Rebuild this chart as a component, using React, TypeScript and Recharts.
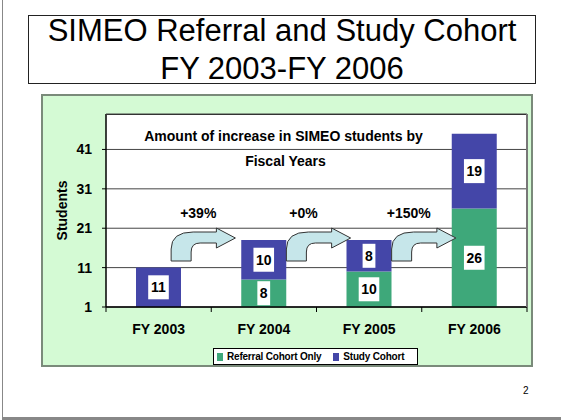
import React from "react";
import { Bar, BarChart, CartesianGrid, LabelList, Legend, XAxis, YAxis } from "recharts";

const YEARS = ["FY 2003", "FY 2004", "FY 2005", "FY 2006"];
const REFERRAL_ONLY = [0, 8, 10, 26];
const STUDY_COHORT = [11, 10, 8, 19];
const Y_TICKS = [1, 11, 21, 31, 41];
const Y_MIN = 1;
const Y_MAX = 50;
const INCREASE_LABELS = ["+39%", "+0%", "+150%"];
const CHART_TITLE = ["Amount of increase in SIMEO students by", "Fiscal Years"];
const SLIDE_TITLE = ["SIMEO Referral and Study Cohort", "FY 2003-FY 2006"];

const data = YEARS.map((year, i) => ({
  year,
  referral: REFERRAL_ONLY[i],
  study: STUDY_COHORT[i]
}));

const FONT = '"Liberation Sans", Arial, sans-serif';
const GREEN = "#3ea87a";
const BLUE = "#4446a8";

// chart frame (the green panel) on the page
const FRAME = { left: 41, top: 94, width: 492, height: 273 };
const MARGIN = { top: 20, right: 6, left: 0, bottom: 20 };
const Y_AXIS_W = 65;
const X_AXIS_H = 40;
const BAR_W = 45;

// plot area, page coordinates
const PLOT_L = FRAME.left + MARGIN.left + Y_AXIS_W;
const PLOT_R = FRAME.left + FRAME.width - MARGIN.right;
const PLOT_T = FRAME.top + MARGIN.top;
const PLOT_B = FRAME.top + FRAME.height - MARGIN.bottom - X_AXIS_H;
const BAND = (PLOT_R - PLOT_L) / YEARS.length;
const yPos = (v: number) => PLOT_T + ((Y_MAX - v) / (Y_MAX - Y_MIN)) * (PLOT_B - PLOT_T);

function ValueBox(props: any) {
  const { x, y, width, height, value } = props;
  if (!value) return null;
  const cx = Number(x) + Number(width) / 2;
  const cy = Number(y) + Number(height) / 2;
  const w = String(value).length * 7.8 + 5;
  return (
    <g>
      <rect x={cx - w / 2} y={cy - 12} width={w} height={24} fill="#fff" />
      <text x={cx} y={cy + 5} textAnchor="middle" fontFamily={FONT} fontWeight="bold" fontSize={14} fill="#000">
        {value}
      </text>
    </g>
  );
}

function YearTick(props: any) {
  const { x, y, payload, index } = props;
  const half = BAND / 2;
  return (
    <g>
      <line x1={x - half} x2={x - half} y1={y} y2={y + 5} stroke="#000" />
      {index === YEARS.length - 1 && <line x1={x + half} x2={x + half} y1={y} y2={y + 5} stroke="#000" />}
      <text x={x} y={y + 27} textAnchor="middle" fontFamily={FONT} fontWeight="bold" fontSize={14} fill="#000">
        {payload.value}
      </text>
    </g>
  );
}

function StudentsLabel(props: any) {
  const { viewBox } = props;
  const x = viewBox.x + 26;
  const y = viewBox.y + viewBox.height / 2;
  return (
    <text x={x} y={y} transform={`rotate(-90 ${x} ${y})`} textAnchor="middle" fontFamily={FONT} fontWeight="bold" fontSize={14} fill="#000">
      Students
    </text>
  );
}

function LegendBox() {
  const item = (color: string, label: string) => (
    <span style={{ display: "inline-flex", alignItems: "center", marginRight: 12 }}>
      <span style={{ display: "inline-block", width: 6, height: 8, background: color, marginRight: 4 }} />
      {label}
    </span>
  );
  return (
    <div
      style={{
        boxSizing: "border-box",
        width: 205,
        height: 17,
        border: "1px solid #000",
        background: "#fff",
        fontFamily: FONT,
        fontWeight: "bold",
        fontSize: 10,
        lineHeight: "15px",
        paddingLeft: 3,
        whiteSpace: "nowrap",
        letterSpacing: -0.2
      }}
    >
      {item(GREEN, "Referral Cohort Only")}
      {item(BLUE, "Study Cohort")}
    </div>
  );
}

function arrowPath(x0: number, xt: number) {
  const x1 = x0 + 20;
  const xh = xt - 19;
  const yb = 261;
  const yt = 232;
  const ys = 243;
  return [
    `M${x0},${yb}`,
    `L${x0},${ys + 6}`,
    `Q${x0},${yt} ${x0 + 22},${yt}`,
    `L${xh},${yt}`,
    `L${xh},228`,
    `L${xt},238`,
    `L${xh},248`,
    `L${xh},${ys}`,
    `L${x1 + 9},${ys}`,
    `Q${x1},${ys} ${x1},${ys + 9}`,
    `L${x1},${yb}`,
    "Z"
  ].join(" ");
}

function Overlay() {
  return (
    <svg width={561} height={420} style={{ position: "absolute", left: 0, top: 0, pointerEvents: "none" }}>
      <line x1={PLOT_L} x2={PLOT_R} y1={PLOT_T + 0.5} y2={PLOT_T + 0.5} stroke="#333" />
      <line x1={PLOT_R} x2={PLOT_R} y1={PLOT_T} y2={PLOT_B} stroke="#777" strokeWidth={2} />
      {CHART_TITLE.map((t, i) => (
        <text key={t} x={(PLOT_L + PLOT_R) / 2 - 33 + i * 2} y={141 + i * 25} textAnchor="middle" fontFamily={FONT} fontWeight="bold" fontSize={14} fill="#000">
          {t}
        </text>
      ))}
      {INCREASE_LABELS.map((t, i) => {
        const boundary = PLOT_L + (i + 1) * BAND;
        const leftBarRight = boundary - BAND / 2 + BAR_W / 2;
        const rightBarLeft = boundary + BAND / 2 - BAR_W / 2;
        return (
          <g key={t}>
            <text x={boundary - 13} y={yPos(23.5)} textAnchor="middle" fontFamily={FONT} fontWeight="bold" fontSize={14} fill="#000">
              {t}
            </text>
            <path d={arrowPath(leftBarRight - (i === 0 ? 10 : 0), rightBarLeft + 4 - (i === 0 ? 10 : 0))} fill="#c6e6ea" stroke="#333" strokeWidth={1} />
          </g>
        );
      })}
    </svg>
  );
}

export default function App() {
  return (
    <div style={{ position: "absolute", left: 0, top: 0, width: 561, height: 420, background: "#fff", fontFamily: FONT }}>
      <div style={{ position: "absolute", left: 2, top: 0, width: 1, height: 418, background: "#888" }} />
      <div style={{ position: "absolute", left: 2, top: 417, width: 559, height: 3, background: "#888" }} />
      <div
        style={{
          position: "absolute",
          left: 28,
          top: 15,
          width: 508,
          height: 69,
          boxSizing: "border-box",
          border: "1px solid #222"
        }}
      >
        {SLIDE_TITLE.map((t, i) => (
          <div
            key={t}
            style={{ position: "absolute", left: 0, right: 0, top: -3 + i * 38, textAlign: "center", fontSize: 31, lineHeight: "36px", color: "#000" }}
          >
            {t}
          </div>
        ))}
      </div>
      <div
        style={{
          position: "absolute",
          left: FRAME.left,
          top: FRAME.top,
          width: FRAME.width,
          height: FRAME.height,
          boxSizing: "border-box",
          border: "2px solid #7a8a7a",
          background: "#d4fad4"
        }}
      />
      <div style={{ position: "absolute", left: FRAME.left, top: FRAME.top }}>
        <BarChart width={FRAME.width} height={FRAME.height} data={data} margin={MARGIN} barSize={BAR_W}>
          <CartesianGrid vertical={false} stroke="#444" fill="#fff" />
          <XAxis
            dataKey="year"
            height={X_AXIS_H}
            axisLine={{ stroke: "#000", strokeWidth: 1.5 }}
            tickLine={false}
            tickSize={0}
            tickMargin={0}
            tick={<YearTick />}
            interval={0}
          />
          <YAxis
            width={Y_AXIS_W}
            domain={[Y_MIN, Y_MAX]}
            ticks={Y_TICKS}
            allowDataOverflow
            axisLine={{ stroke: "#000", strokeWidth: 1.5 }}
            tickLine={{ stroke: "#000" }}
            tickSize={4}
            tickMargin={10}
            tick={{ fill: "#000", fontFamily: FONT, fontWeight: "bold", fontSize: 14 }}
            label={<StudentsLabel />}
          />
          <Legend
            layout="horizontal"
            verticalAlign="middle"
            align="center"
            wrapperStyle={{ left: 172, top: 254, width: 205, height: 17 }}
            content={<LegendBox />}
          />
          <Bar dataKey="referral" name="Referral Cohort Only" stackId="s" fill={GREEN} isAnimationActive={false}>
            <LabelList dataKey="referral" content={<ValueBox />} />
          </Bar>
          <Bar dataKey="study" name="Study Cohort" stackId="s" fill={BLUE} isAnimationActive={false}>
            <LabelList dataKey="study" content={<ValueBox />} />
          </Bar>
        </BarChart>
      </div>
      <Overlay />
      <div style={{ position: "absolute", left: 523, top: 385, fontSize: 10, color: "#000" }}>2</div>
    </div>
  );
}
